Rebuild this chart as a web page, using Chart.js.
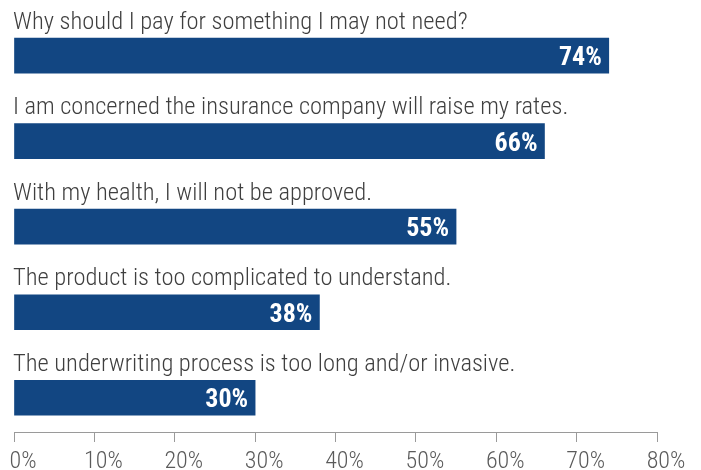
<!DOCTYPE html>
<html>
<head>
<meta charset="utf-8">
<script src="https://cdn.jsdelivr.net/npm/chart.js@4"></script>
<style>
  body { margin: 0; background: #fff; }
  #wrap { width: 701px; height: 470px; }
</style>
</head>
<body>
<div id="wrap"><canvas id="chart"></canvas></div>
<script>
// data
var categories = [
    'Why should I pay for something I may not need?',
    'I am concerned the insurance company will raise my rates.',
    'With my health, I will not be approved.',
    'The product is too complicated to understand.',
    'The underwriting process is too long and/or invasive.'
];
var values = [74, 66, 55, 38, 30];
var tickValues = [0, 10, 20, 30, 40, 50, 60, 70, 80];

var barColor = '#124682';
var fontFamily = "'Roboto Condensed', 'Liberation Sans Narrow', sans-serif";

// question text above each bar, value text inside the bar end
var barText = {
    id: 'barText',
    afterDatasetsDraw: function(chart){
        var ctx = chart.ctx;
        var meta = chart.getDatasetMeta(0);
        var yScale = chart.scales.y;
        var xScale = chart.scales.x;
        ctx.save();
        categories.forEach(function(cat, i){
            var yc = yScale.getPixelForValue(i);
            ctx.font = '300 24.5px ' + fontFamily;
            ctx.fillStyle = '#3f3f3f';
            ctx.textAlign = 'left';
            ctx.textBaseline = 'alphabetic';
            ctx.fillText(cat, xScale.left - 1, yc - 27);

            var bar = meta.data[i];
            ctx.font = 'bold 26px ' + fontFamily;
            ctx.fillStyle = '#ffffff';
            ctx.textAlign = 'right';
            ctx.fillText(values[i] + '%', bar.x - 7, yc + 9.5);
        });
        ctx.restore();
    }
};

var ctx = document.getElementById('chart');
var chart = new Chart(ctx, {
    type: 'bar',
    data: {
        datasets: [{
            data: values.map(function(v, i){ return { x: v, y: i }; }),
            backgroundColor: barColor,
            borderWidth: 0,
            barThickness: 35
        }]
    },
    options: {
        indexAxis: 'y',
        responsive: true,
        maintainAspectRatio: false,
        animation: false,
        layout: { padding: { left: 14, right: 44, top: 0, bottom: 0 } },
        plugins: {
            legend: { display: false },
            tooltip: { enabled: false }
        },
        scales: {
            y: {
                type: 'linear',
                reverse: true,
                offset: false,
                min: -0.65,
                max: 4.4,
                display: false
            },
            x: {
                type: 'linear',
                min: 0,
                max: 80,
                afterBuildTicks: function(axis){
                    axis.ticks = tickValues.map(function(v){ return { value: v }; });
                },
                afterFit: function(axis){
                    axis.height = 38;
                    axis.paddingLeft = 0;
                    axis.paddingRight = 0;
                },
                border: { display: true, color: '#9a9a9a', width: 1 },
                grid: {
                    drawOnChartArea: false,
                    drawTicks: true,
                    tickLength: 10,
                    color: '#9a9a9a'
                },
                ticks: {
                    padding: 6,
                    labelOffset: 9,
                    maxRotation: 0,
                    color: '#5a5a5a',
                    font: { family: fontFamily, size: 24, weight: '300' },
                    callback: function(v){ return v + '%'; }
                }
            }
        }
    },
    plugins: [barText]
});
</script>
</body>
</html>
